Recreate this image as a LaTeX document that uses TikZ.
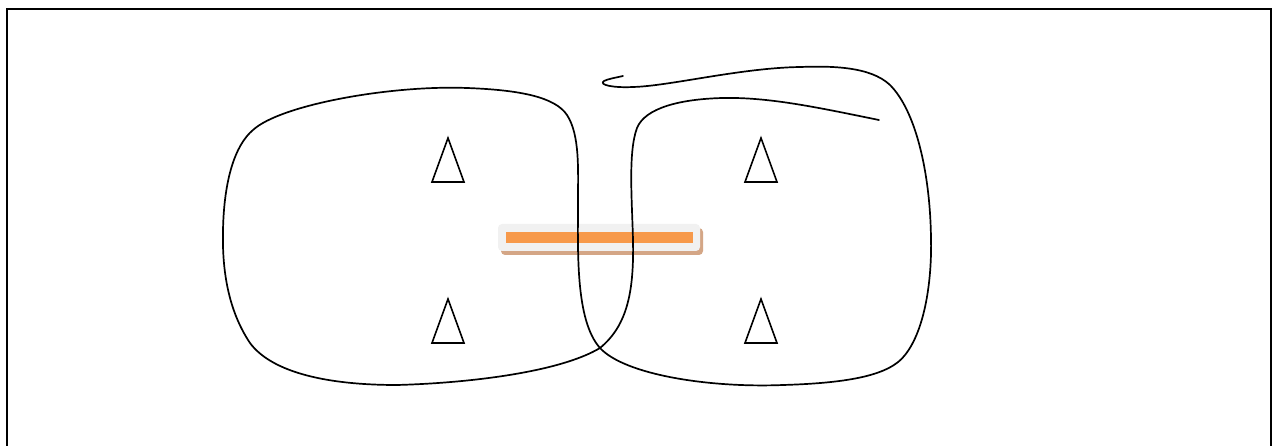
\documentclass[tikz,border=0pt]{standalone}
\begin{document}
\begin{tikzpicture}[x=1pt,y=-1pt,
  stroke/.style={line width=1.7pt,line cap=round,line join=round},
  tri/.style={line width=1.6pt,line join=miter}]
\useasboundingbox (0,0) rectangle (1282,446);
\clip (0,0) rectangle (1282,446);
\fill[white] (0,0) rectangle (1282,446);
\draw[line width=2pt] (7,9.5) rectangle (1271,470);
% bar
\definecolor{barshadow}{HTML}{D4A686}
\definecolor{barbg}{HTML}{F1F1F1}
\definecolor{barorange}{HTML}{F7994A}
\fill[barshadow,rounded corners=4pt] (501,228) rectangle (703,255);
\fill[barbg,rounded corners=4pt] (498,224) rectangle (700,251);
\fill[barorange] (506,232) rectangle (693,243);
% triangles
\draw[tri] (448,138) -- (464,182) -- (432,182) -- cycle;
\draw[tri] (448,299) -- (464,343) -- (432,343) -- cycle;
\draw[tri] (761,138) -- (777,182) -- (745,182) -- cycle;
\draw[tri] (761,299) -- (777,343) -- (745,343) -- cycle;
% the stroke
\draw[stroke]
 (879,120) .. controls (820,108) and (770,97) .. (723,98)
 .. controls (680,99) and (645,108) .. (637,128)
 .. controls (628,152) and (632,200) .. (633,240)
 .. controls (634,290) and (628,325) .. (600,348)
 .. controls (560,372) and (470,383) .. (397,385)
 .. controls (320,385) and (270,370) .. (250,343)
 .. controls (228,310) and (222,270) .. (223,230)
 .. controls (224,180) and (235,145) .. (253,130)
 .. controls (280,105) and (390,85) .. (467,88)
 .. controls (520,90) and (555,97) .. (567,115)
 .. controls (580,135) and (578,170) .. (578,200)
 .. controls (578,250) and (575,320) .. (600,348)
 .. controls (625,375) and (710,388) .. (783,385)
 .. controls (850,383) and (890,375) .. (905,355)
 .. controls (925,330) and (932,280) .. (931,238)
 .. controls (930,170) and (915,110) .. (890,85)
 .. controls (870,66) and (830,66) .. (800,67)
 .. controls (740,68) and (670,86) .. (633,87)
 .. controls (614,88) and (598,85) .. (604,81)
 .. controls (608,79) and (614,78) .. (623,76);
\end{tikzpicture}
\end{document}
